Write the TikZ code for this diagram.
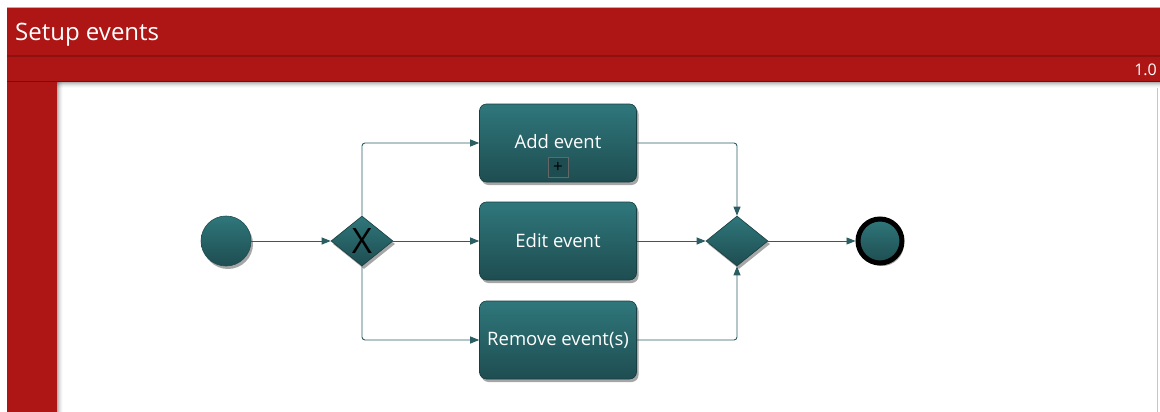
\documentclass[tikz,border=0pt]{standalone}
\usepackage{fontspec}
\setmainfont{Open Sans}
\usetikzlibrary{shadows,arrows.meta,shapes.geometric}
\definecolor{bannerred}{HTML}{AE1616}
\definecolor{bannerline}{HTML}{8E1010}
\definecolor{tealtop}{HTML}{2F777B}
\definecolor{tealbot}{HTML}{1E4D51}
\definecolor{flow}{HTML}{2B5E62}
\tikzset{
  x=1pt,y=-1pt,
  bpmnshadow/.style={drop shadow={shadow xshift=2pt,shadow yshift=-3pt,opacity=0.35,fill=black}},
  taskbox/.style={rectangle,rounded corners=7pt,minimum width=157pt,minimum height=78pt,
    top color=tealtop,bottom color=tealbot,draw=tealbot!80!black,line width=0.6pt,
    text=white,font=\fontsize{18.5}{20}\selectfont,bpmnshadow},
  gate/.style={diamond,minimum width=62pt,minimum height=50pt,inner sep=0pt,
    top color=tealtop,bottom color=tealbot,draw=tealbot!80!black,line width=0.6pt,bpmnshadow},
  startev/.style={circle,minimum size=50pt,inner sep=0pt,
    top color=tealtop,bottom color=tealbot,draw=tealbot,line width=0.6pt,bpmnshadow},
  endev/.style={circle,minimum size=44pt,inner sep=0pt,
    top color=tealtop,bottom color=tealbot,draw=black,line width=5pt,bpmnshadow},
  flowline/.style={draw=flow,line width=0.9pt,-{Triangle[length=9pt,width=7pt]},rounded corners=3pt},
}
\begin{document}
\begin{tikzpicture}
\useasboundingbox (0,0) rectangle (1160,412);
\fill[white] (0,0) rectangle (1160,412);
% frame
\draw[gray!45,line width=1pt] (1157,88) -- (1157,412);
\foreach \i/\o in {0/0.30,1/0.22,2/0.15,3/0.09,4/0.05,5/0.02} {
  \fill[black,opacity=\o] (57,82+\i) rectangle (1160,83+\i);
  \fill[black,opacity=\o] (57+\i,82) rectangle (58+\i,412);
}
\fill[bannerred] (7,82) rectangle (57,412);
\fill[bannerred] (7,7) rectangle (1160,82);
\draw[gray!60,line width=0.8pt] (7,7) -- (1160,7);
\draw[bannerline,line width=1.2pt] (7,56) -- (1160,56);
\draw[bannerline!80!black,line width=1pt] (7,81.5) -- (1160,81.5);
\node[anchor=base west,text=white,font=\fontsize{24}{26}\selectfont,inner sep=0pt] (title) at (15,41) {Setup events};
\node[anchor=base east,text=white,font=\fontsize{16}{18}\selectfont,inner sep=0pt] (ver) at (1157,76) {1.0};
% nodes
\node[startev] (start) at (226,241) {};
\node[gate] (xg) at (362,241) {};
\node[font=\fontsize{35}{35}\selectfont,text=black,inner sep=0pt] (xlab) at (362,241) {X};
\node[taskbox] (add) at (558,143) {};
\node[text=white,font=\fontsize{18.5}{20}\selectfont] (addlab) at (558,142) {Add event};
\node[draw=black!60,line width=0.7pt,fill=tealbot,minimum size=20pt,inner sep=0pt,font=\fontsize{17}{17}\selectfont,text=black] (plus) at (558,167) {+};
\node[taskbox] (edit) at (558,241) {Edit event};
\node[taskbox] (rem) at (558,340) {Remove event(s)};
\node[gate] (mg) at (737,241) {};
\node[endev] (end) at (880,241) {};
% flows
\draw[flowline] (start) -- (xg);
\draw[flowline] (xg.north) |- (add.west);
\draw[flowline] (xg) -- (edit);
\draw[flowline] (xg.south) |- (rem.west);
\draw[flowline] (add.east) -| (mg.north);
\draw[flowline] (edit) -- (mg);
\draw[flowline] (rem.east) -| (mg.south);
\draw[flowline] (mg) -- (end);
\end{tikzpicture}
\end{document}
